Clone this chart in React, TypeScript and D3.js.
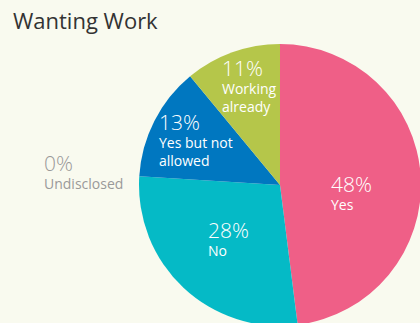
import React, { useEffect, useRef } from "react";
import * as d3 from "d3";

const categories = ["Yes", "No", "Yes but not allowed", "Working already", "Undisclosed"];
const values = [48, 28, 13, 11, 0];
const labelLines = [["Yes"], ["No"], ["Yes but not", "allowed"], ["Working", "already"], ["Undisclosed"]];
const colors = ["#EF5F87", "#05BAC6", "#0077C0", "#B5C64A", "#CCCCCC"];
const title = "Wanting Work";

const W = 420, H = 323;
const CX = 280, CY = 185, R = 141;
// label anchors (left, baseline of % line) relative to pie center
const labelOffsets: [number, number][] = [[51, 7], [-72, 53], [-121, -55], [-58, -109], [-236, -14]];
const FONT = "'Open Sans', sans-serif";

export default function App() {
  const ref = useRef<SVGSVGElement>(null);
  useEffect(() => {
    document.body.style.margin = "0";
    const svg = d3.select(ref.current);
    svg.selectAll("*").remove();
    svg.append("rect").attr("width", W).attr("height", H).attr("fill", "#F9FAEF");
    svg.append("text").attr("x", 13).attr("y", 29).attr("font-family", FONT)
      .attr("font-size", 22).attr("font-weight", 400).attr("fill", "#333").text(title);

    const pie = d3.pie<number>().sort(null).value(d => d);
    const arcs = pie(values);
    const arc = d3.arc<d3.PieArcDatum<number>>().innerRadius(0).outerRadius(R);
    const g = svg.append("g").attr("transform", `translate(${CX},${CY})`);
    g.selectAll("path").data(arcs.filter(a => a.value > 0)).join("path")
      .attr("d", arc as any).attr("fill", (d) => colors[d.index]);

    arcs.forEach((a, i) => {
      const [dx, dy] = labelOffsets[i];
      const fill = a.value > 0 ? "#fff" : "#999";
      g.append("text").attr("font-family", FONT).attr("fill", fill)
        .attr("x", dx).attr("y", dy).attr("font-size", 21).attr("font-weight", 300)
        .text(`${values[i]}%`);
      labelLines[i].forEach((line, j) => {
        g.append("text").attr("font-family", FONT).attr("fill", fill)
          .attr("x", dx).attr("y", dy + 18 * (j + 1)).attr("font-size", 14).text(line);
      });
    });
  }, []);
  return <svg ref={ref} width={W} height={H} style={{ display: "block", position: "absolute", left: 0, top: 0 }} />;
}
